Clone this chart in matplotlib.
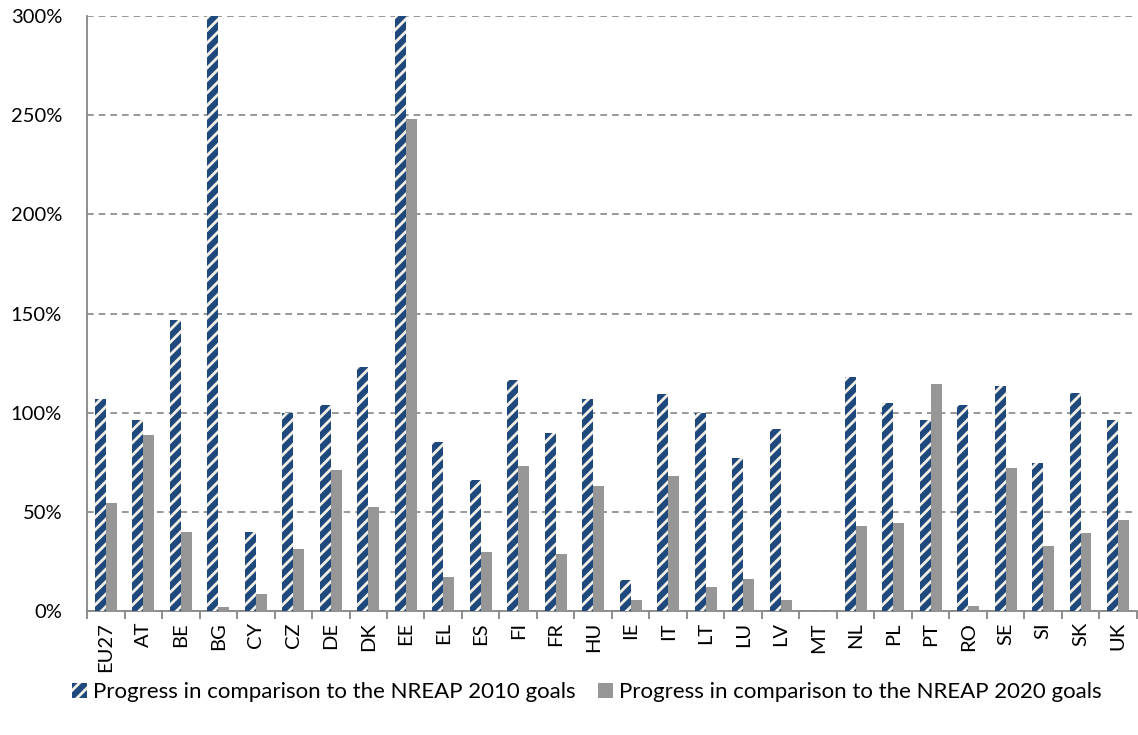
import matplotlib
matplotlib.use("Agg")
import matplotlib.pyplot as plt
import numpy as np
from matplotlib.ticker import FuncFormatter, MultipleLocator, FixedLocator
from matplotlib.backend_bases import GraphicsContextBase
from matplotlib.path import Path

# hatch spacing tuned to match the reference stripes
def _hatch_path(self, density=8.0):
    hatch = self.get_hatch()
    if hatch is None:
        return None
    return Path.hatch(hatch, 8.0)
GraphicsContextBase.get_hatch_path = _hatch_path

plt.rcParams['font.family'] = ['Lato', 'DejaVu Sans']
plt.rcParams['hatch.linewidth'] = 2.0

countries = ["EU27", "AT", "BE", "BG", "CY", "CZ", "DE", "DK", "EE", "EL", "ES", "FI",
             "FR", "HU", "IE", "IT", "LT", "LU", "LV", "MT", "NL", "PL", "PT", "RO",
             "SE", "SI", "SK", "UK"]
progress_2010 = [107, 96.5, 147, 310, 40, 100, 104, 123, 310, 85, 66, 116.5,
                 90, 107, 15.5, 109.5, 100, 77, 92, 0, 118, 105, 96.5, 104,
                 113.5, 74.5, 110, 96.5]
progress_2020 = [54.5, 89, 40, 2, 8.5, 31.5, 71, 52.5, 248, 17, 30, 73,
                 28.5, 63, 5.5, 68, 12, 16, 5.5, 0, 43, 44.5, 114.5, 2.5,
                 72, 33, 39.5, 46]
label_2010 = "Progress in comparison to the NREAP 2010 goals"
label_2020 = "Progress in comparison to the NREAP 2020 goals"

navy = "#1F497D"
cream = "#F2F0E4"
gray = "#969696"
axis_gray = "#868686"

fig = plt.figure(figsize=(11.38, 7.35), dpi=100)
ax = fig.add_axes([0.0765, 0.1687, 0.9225, 0.8093])

x = np.arange(len(countries))
w = 0.29
b1 = ax.bar(x - w / 2, progress_2010, width=w, color=navy, edgecolor=cream,
            linewidth=0, hatch="//", label=label_2010, zorder=3)
b2 = ax.bar(x + w / 2, progress_2020, width=w, color=gray, linewidth=0,
            label=label_2020, zorder=3)

ax.set_xlim(-0.5, len(countries) - 0.5)
ax.set_ylim(0, 300)
ax.yaxis.set_major_locator(MultipleLocator(50))
ax.yaxis.set_major_formatter(FuncFormatter(lambda v, p: f"{int(v)}%"))
ax.grid(axis="y", linestyle=(0, (4, 3)), color=axis_gray, linewidth=1.2, zorder=0)
ax.set_axisbelow(True)

for s in ["top", "right"]:
    ax.spines[s].set_visible(False)
for s in ["left", "bottom"]:
    ax.spines[s].set_color(axis_gray)
    ax.spines[s].set_linewidth(1.3)

ax.tick_params(axis="y", length=0, labelsize=14.5, pad=18, colors="black")
ax.set_xticks(x)
ax.set_xticklabels(countries, rotation=90, fontsize=14.5)
ax.tick_params(axis="x", length=0, pad=8)
ax.xaxis.set_minor_locator(FixedLocator(np.arange(-0.5, len(countries), 1.0)))
ax.tick_params(axis="x", which="minor", length=6, width=1.3, color=axis_gray, direction="out")

fig.legend(handles=[b1, b2], labels=[label_2010, label_2020], loc="center",
           bbox_to_anchor=(0.516, 0.058), ncol=2, frameon=False, fontsize=16,
           handlelength=0.65, handleheight=0.65, handletextpad=0.3, columnspacing=1.0)

fig.savefig("out.png", dpi=100)
